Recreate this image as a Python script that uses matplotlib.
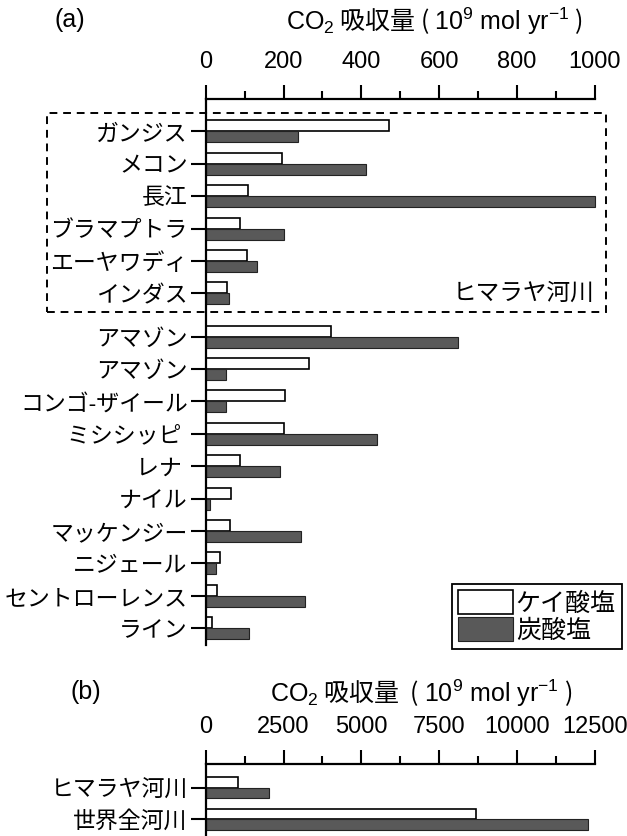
import matplotlib
matplotlib.use("Agg")
import matplotlib.pyplot as plt
from matplotlib.patches import Rectangle
from matplotlib.ticker import MultipleLocator
import numpy as np

plt.rcParams['font.family'] = ['Liberation Sans', 'Noto Sans CJK JP', 'DejaVu Sans']
plt.rcParams['mathtext.fontset'] = 'custom'
plt.rcParams['mathtext.rm'] = 'Liberation Sans'
plt.rcParams['mathtext.it'] = 'Liberation Sans:italic'

# (a) individual rivers, CO2 uptake in 10^9 mol/yr
rivers = ['ガンジス', 'メコン', '長江', 'ブラマプトラ', 'エーヤワディ', 'インダス',
          'アマゾン', 'アマゾン', 'コンゴ-ザイール', 'ミシシッピ ', 'レナ ', 'ナイル',
          'マッケンジー', 'ニジェール', 'セントローレンス', 'ライン']
silicate = [472, 195, 109, 88, 106, 54, 322, 265, 203, 200, 87, 65, 63, 37, 29, 15]
carbonate = [238, 411, 1000, 202, 133, 60, 649, 52, 53, 439, 190, 12, 245, 27, 254, 110]

# (b) totals
groups = ['ヒマラヤ河川', '世界全河川']
silicate_tot = [1024, 8690]
carbonate_tot = [2044, 12280]

W, H = 627, 836
fig = plt.figure(figsize=(W / 100, H / 100), dpi=100)

x0, x1 = 205.7, 595
lbl_fs = 16.5
num_fs = 17
ttl_fs = 18
h = 0.34
dark = '#595959'


def style(ax, major, minor):
    for s in ['right', 'bottom']:
        ax.spines[s].set_visible(False)
    for s in ['top', 'left']:
        ax.spines[s].set_linewidth(1.6)
    ax.xaxis.set_ticks_position('top')
    ax.xaxis.set_major_locator(MultipleLocator(major))
    ax.xaxis.set_minor_locator(MultipleLocator(minor))
    ax.tick_params(axis='x', which='major', length=10, width=1.5, pad=9, labelsize=num_fs)
    ax.tick_params(axis='x', which='minor', length=6, width=1.5)
    ax.tick_params(axis='y', length=11, width=1.5, pad=2, labelsize=lbl_fs)


def bars(ax, y, sil, carb):
    b1 = ax.barh(y - h / 2, sil, height=h, color='white', edgecolor='black',
                 linewidth=1.2, clip_on=False, label='ケイ酸塩')
    b2 = ax.barh(y + h / 2, carb, height=h, color=dark, edgecolor='#222222',
                 linewidth=0.8, clip_on=False, label='炭酸塩')
    return b1, b2


# panel (a)
ax1 = fig.add_axes([x0 / W, 1 - 645 / H, (x1 - x0) / W, (645 - 99) / H])
ya = np.arange(len(rivers)) + np.where(np.arange(len(rivers)) > 5, 0.33, 0.0)
b1, b2 = bars(ax1, ya, silicate, carbonate)
ax1.set_xlim(0, 1000)
ax1.set_ylim(15.85, -1.0)
ax1.set_yticks(ya)
ax1.set_yticklabels(rivers)
style(ax1, 200, 100)

ax1.legend(handles=[b1, b2], loc='upper right', bbox_to_anchor=(622 / W, 1 - 584 / H),
           bbox_transform=fig.transFigure, fancybox=False, framealpha=1,
           edgecolor='black', fontsize=18, handlelength=2.2, handleheight=1.1,
           handletextpad=0.1, borderpad=0.25, labelspacing=0.05, borderaxespad=0)
ax1.get_legend().get_frame().set_linewidth(1.3)

# dashed frame around the Himalayan rivers
fig.patches.append(Rectangle((47 / W, 1 - 312 / H), (606 - 47) / W, (312 - 113) / H,
                             transform=fig.transFigure, fill=False, edgecolor='black',
                             linestyle=(0, (4, 3)), linewidth=1.4, zorder=5))
fig.text(594 / W, 1 - 294 / H, 'ヒマラヤ河川', ha='right', va='center', fontsize=17)

title = '$\\mathrm{CO_2}$ 吸収量 ( $\\mathrm{10^9\\ mol\\ yr^{-1}}$ )'
fig.text(70 / W, 1 - 20 / H, '(a)', ha='center', va='center', fontsize=ttl_fs)
fig.text(434 / W, 1 - 21 / H, title, ha='center', va='center', fontsize=ttl_fs,
         family='Noto Sans CJK JP')

# panel (b)
ax2 = fig.add_axes([x0 / W, 0, (x1 - x0) / W, (H - 764) / H])
yb = np.arange(len(groups))
bars(ax2, yb, silicate_tot, carbonate_tot)
ax2.set_xlim(0, 12500)
ax2.set_ylim(1.53, -0.75)
ax2.set_yticks(yb)
ax2.set_yticklabels(groups)
style(ax2, 2500, 1250)

title_b = '$\\mathrm{CO_2}$ 吸収量  ( $\\mathrm{10^9\\ mol\\ yr^{-1}}$ )'
fig.text(86 / W, 1 - 692 / H, '(b)', ha='center', va='center', fontsize=ttl_fs)
fig.text(421 / W, 1 - 693 / H, title_b, ha='center', va='center', fontsize=ttl_fs,
         family='Noto Sans CJK JP')

fig.savefig('out.png', dpi=100)
